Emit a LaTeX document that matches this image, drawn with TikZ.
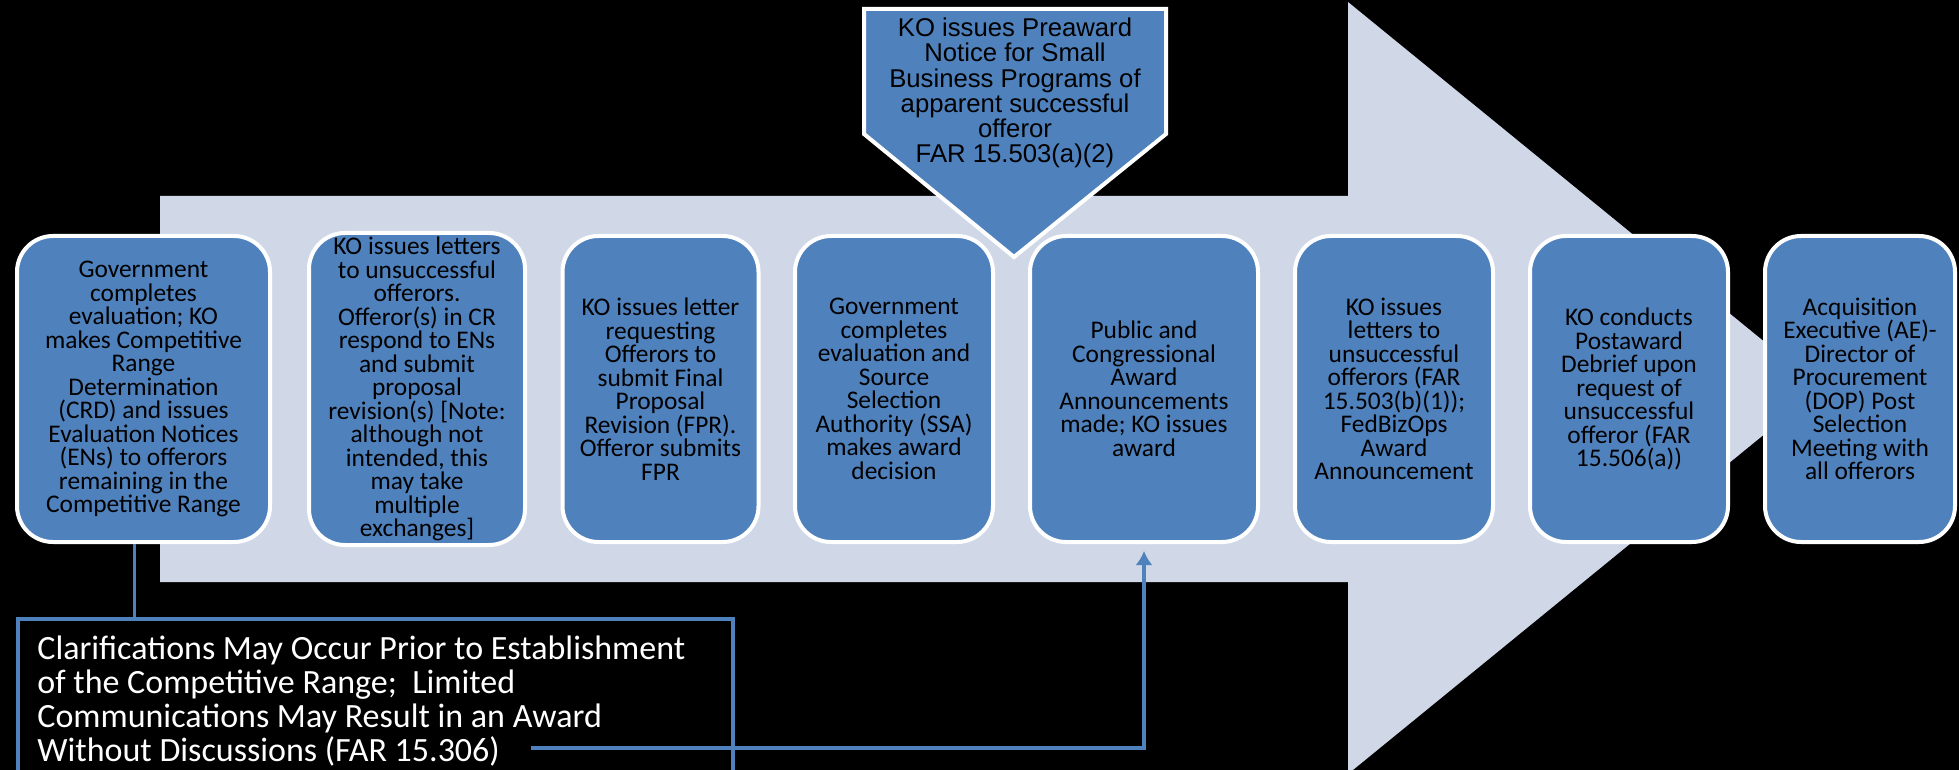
\documentclass[tikz,border=0pt]{standalone}
\usepackage{fontspec}
\setmainfont{Carlito}
\newfontfamily\calloutfont{Liberation Sans}
\usetikzlibrary{arrows.meta}
\definecolor{stepblue}{RGB}{79,129,189}
\definecolor{bandgray}{RGB}{208,216,232}

\begin{document}
\begin{tikzpicture}[
    x=0.5pt, y=-0.5pt,
    >={Latex[length=7pt,width=8.5pt]},
    stepbox/.style={draw=white, line width=2pt, rounded corners=18pt, fill=stepblue,
                    minimum height=153pt, align=center, inner sep=2pt,
                    font=\fontsize{12.7}{11.75}\selectfont},
    calltext/.style={align=center, inner sep=0pt,
                     font=\calloutfont\fontsize{12.85}{12.6}\selectfont},
    clarbox/.style={draw=stepblue, line width=2pt, fill=black, inner sep=0pt},
    clartext/.style={align=left, inner sep=0pt, text=white,
                     font=\fontsize{17}{17}\selectfont},
    linkline/.style={draw=stepblue, line width=1.7pt},
    linkarrow/.style={->, stepblue, line width=1.7pt},
]
\useasboundingbox (0,0) rectangle (1959,770);
\clip (0,0) rectangle (1959,770);
\fill[black] (0,0) rectangle (1959,770);

% Background band arrow
\fill[bandgray] (160,196) -- (1348,196) -- (1348,2) -- (1821,388)
    -- (1348,774) -- (1348,582) -- (160,582) -- cycle;

% Process steps, left to right
\node[stepbox, minimum width=126.5pt] (crd) at (143.5,389) {Government\\completes\\evaluation; KO\\makes Competitive\\Range\\Determination\\(CRD) and issues\\Evaluation Notices\\(ENs) to offerors\\remaining in the\\Competitive Range};
\node[stepbox, minimum width=108pt] (ens) at (417,389) {KO issues letters\\to unsuccessful\\offerors.\\Offeror(s) in CR\\respond to ENs\\and submit\\proposal\\revision(s) [Note:\\although not\\intended, this\\may take\\multiple\\exchanges]};
\node[stepbox, minimum width=98pt] (fpr) at (660.5,389) {KO issues letter\\requesting\\Offerors to\\submit Final\\Proposal\\Revision (FPR).\\Offeror submits\\FPR};
\node[stepbox, minimum width=99pt] (ssa) at (894,389) {Government\\completes\\evaluation and\\Source\\Selection\\Authority (SSA)\\makes award\\decision};
\node[stepbox, minimum width=114pt] (award) at (1144,389) {Public and\\Congressional\\Award\\Announcements\\made; KO issues\\award};
\node[stepbox, minimum width=99pt] (letters) at (1394,389) {KO issues\\letters to\\unsuccessful\\offerors (FAR\\15.503(b)(1));\\FedBizOps\\Award\\Announcement};
\node[stepbox, minimum width=99pt] (debrief) at (1629,389) {KO conducts\\Postaward\\Debrief upon\\request of\\unsuccessful\\offeror (FAR\\15.506(a))};
\node[stepbox, minimum width=95pt] (dop) at (1860,389) {Acquisition\\Executive (AE)-\\Director of\\Procurement\\(DOP) Post\\Selection\\Meeting with\\all offerors};

% Preaward callout above the band
\filldraw[draw=white, line width=2pt, fill=stepblue]
    (864,9) -- (1166,9) -- (1166,134) -- (1014,257) -- (864,134) -- cycle;
\node[calltext] (preaward) at (1015,93) {KO issues Preaward\\Notice for Small\\Business Programs of\\apparent successful\\offeror\\FAR 15.503(a)(2)};

% Clarifications box at the bottom
\node[clarbox, anchor=north west, minimum width=357.5pt, minimum height=100pt] (clarbox) at (16,617) {};
\node[clartext, anchor=west] (clarif) at (37,701) {Clarifications May Occur Prior to Establishment\\of the Competitive Range;\ \ Limited\\Communications May Result in an Award\\Without Discussions (FAR 15.306)};
\coordinate (clarEnd) at (531,748);

% Connectors
\draw[linkline] ([xshift=-4.5pt]crd.south) -- ([xshift=-4.5pt]crd.south |- clarbox.north);
\draw[linkarrow, shorten >=3.5pt] (clarEnd) -| (award.south);
\end{tikzpicture}
\end{document}
